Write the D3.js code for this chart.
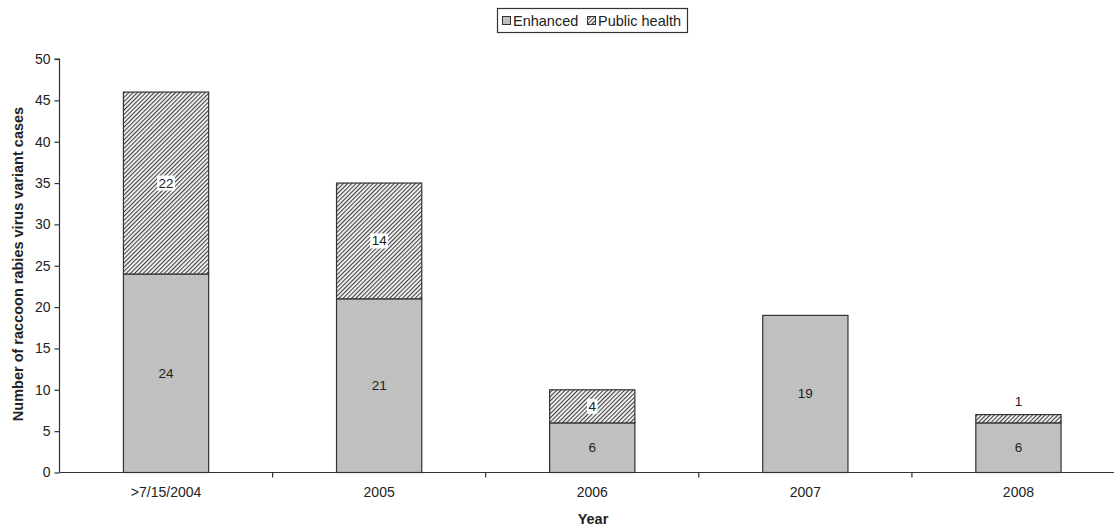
<!DOCTYPE html>
<html>
<head>
<meta charset="utf-8">
<script src="https://cdn.jsdelivr.net/npm/d3@7/dist/d3.min.js"></script>
<style>
  body { margin: 0; background: #fff; }
  svg { display: block; font-family: "Liberation Sans", Arial, sans-serif; }
</style>
</head>
<body>
<svg id="chart" width="1114" height="526"></svg>
<script>
// Raccoon rabies virus variant cases by year and surveillance type
const categories = [">7/15/2004", "2005", "2006", "2007", "2008"];
const enhanced = [24, 21, 6, 19, 6];
const publicHealth = [22, 14, 4, 0, 1];
const yTicks = [0, 5, 10, 15, 20, 25, 30, 35, 40, 45, 50];
const seriesNames = ["Enhanced", "Public health"];

const svg = d3.select("#chart");
const defs = svg.append("defs");

// fine diagonal hatch used for the "Public health" series
const pat = defs.append("pattern")
  .attr("id", "hatch")
  .attr("patternUnits", "userSpaceOnUse")
  .attr("width", 3).attr("height", 3)
  .attr("patternTransform", "rotate(45)");
pat.append("rect").attr("width", 3).attr("height", 3).attr("fill", "#f6f6f6");
pat.append("rect").attr("x", 0).attr("width", 1.1).attr("height", 3).attr("fill", "#404040");

const x = d3.scaleBand().domain(categories).range([59.5, 1125]).paddingInner(0.6).paddingOuter(0.3);
const y = d3.scaleLinear().domain([0, 50]).range([472.5, 59]);

// stack the two series
const rows = categories.map((c, i) => ({ cat: c, enhanced: enhanced[i], publicHealth: publicHealth[i] }));
const stack = d3.stack().keys(["enhanced", "publicHealth"])(rows);
const fills = { enhanced: "#c0c0c0", publicHealth: "url(#hatch)" };

const g = svg.append("g");
stack.forEach(layer => {
  g.selectAll(null).data(layer.filter(d => d[1] > d[0]))
    .enter().append("rect")
    .attr("x", d => x(d.data.cat))
    .attr("width", x.bandwidth())
    .attr("y", d => y(d[1]))
    .attr("height", d => y(d[0]) - y(d[1]))
    .attr("fill", fills[layer.key])
    .attr("stroke", "#333")
    .attr("stroke-width", 1.2);
});

// value labels
stack.forEach(layer => {
  layer.filter(d => d[1] > d[0]).forEach(d => {
    const v = d[1] - d[0];
    const cx = x(d.data.cat) + x.bandwidth() / 2;
    const small = (y(d[0]) - y(d[1])) < 14;
    const cy = small ? y(d[1]) - 13 : (y(d[0]) + y(d[1])) / 2;
    if (layer.key === "publicHealth" && !small) {
      const w = String(v).length * 7.5 + 3;
      g.append("rect").attr("x", cx - w / 2).attr("y", cy - 7.5)
        .attr("width", w).attr("height", 15).attr("fill", "#fff");
    }
    g.append("text").attr("x", cx).attr("y", cy)
      .attr("text-anchor", "middle").attr("dominant-baseline", "central")
      .attr("font-size", 13.5).attr("fill", "#222").text(v);
  });
});

// axes
const tickFont = "Liberation Sans, Arial, sans-serif";
const yAxis = svg.append("g").attr("transform", "translate(59.5,0)")
  .call(d3.axisLeft(y).tickValues(yTicks).tickSize(5).tickPadding(4));
yAxis.selectAll("text").attr("font-size", 14).attr("fill", "#222").attr("font-family", tickFont);
yAxis.selectAll("line, path").attr("stroke", "#333").attr("stroke-width", 1.2);
yAxis.select("path").attr("d", `M-5,${y(50)}H0V${y(0)}`);

const xAxis = svg.append("g").attr("transform", `translate(0,${y(0)})`)
  .call(d3.axisBottom(x).tickSize(0).tickPadding(15));
xAxis.select("path").attr("d", `M59.5,0H1114`).attr("stroke", "#333").attr("stroke-width", 1.2);
xAxis.selectAll("text").attr("font-size", 14).attr("fill", "#222").attr("font-family", tickFont);
// tick marks between categories
const step = x.step();
const bounds = categories.slice(1).map(c => x(c) - x.paddingInner() * step / 2);
xAxis.selectAll(".sep").data(bounds).enter().append("line")
  .attr("x1", d => d).attr("x2", d => d).attr("y1", 0).attr("y2", 5)
  .attr("stroke", "#333").attr("stroke-width", 1.2);

// axis titles
svg.append("text").attr("x", 593).attr("y", 524).attr("text-anchor", "middle")
  .attr("font-size", 14.5).attr("font-weight", "bold").attr("fill", "#222").text("Year");
svg.append("text").attr("transform", "translate(23,264) rotate(-90)").attr("text-anchor", "middle")
  .attr("font-size", 14.5).attr("font-weight", "bold").attr("fill", "#222")
  .text("Number of raccoon rabies virus variant cases");

// legend
const lg = svg.append("g");
lg.append("rect").attr("x", 497.5).attr("y", 8.5).attr("width", 190).attr("height", 24)
  .attr("fill", "#fff").attr("stroke", "#333").attr("stroke-width", 1.2);
const items = [
  { name: seriesNames[0], fill: fills.enhanced, x: 502 },
  { name: seriesNames[1], fill: fills.publicHealth, x: 587 }
];
items.forEach(it => {
  lg.append("rect").attr("x", it.x + 0.5).attr("y", 16.5).attr("width", 8).attr("height", 8)
    .attr("fill", it.fill).attr("stroke", "#333").attr("stroke-width", 1);
  lg.append("text").attr("x", it.x + 11).attr("y", 21).attr("dominant-baseline", "central")
    .attr("font-size", 14.5).attr("fill", "#222").text(it.name);
});
</script>
</body>
</html>
